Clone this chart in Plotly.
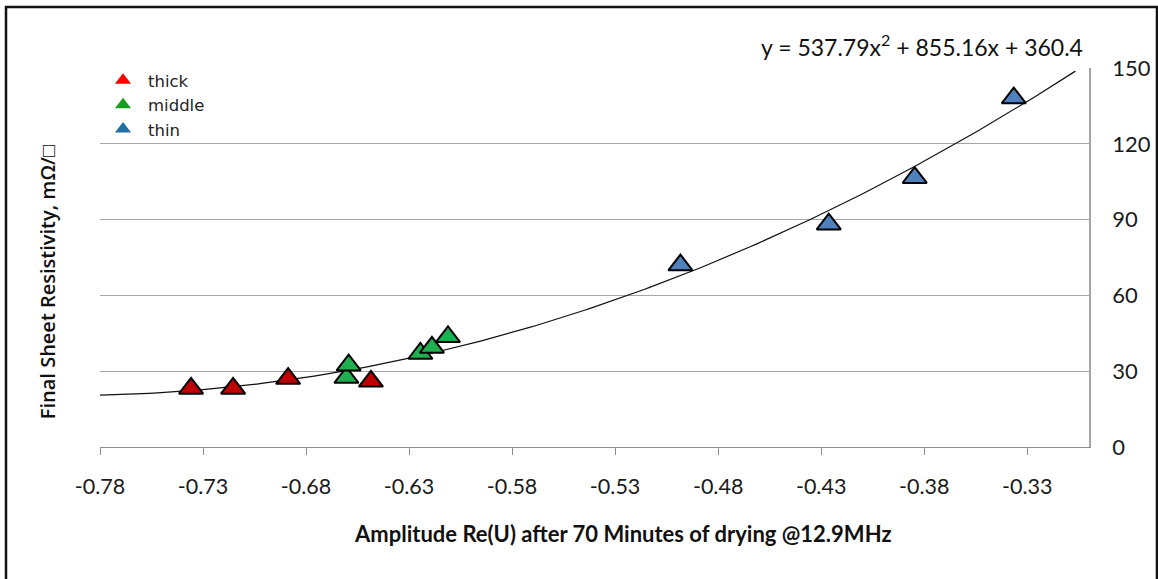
import numpy as np
import plotly.graph_objects as go

# ---- data ----
thick_x = [-0.7358, -0.7154, -0.6887, -0.6485]
thick_y = [23.2, 23.2, 27.1, 26.0]
middle_x = [-0.6604, -0.6593, -0.6245, -0.6189, -0.6111]
middle_y = [27.5, 32.4, 37.0, 39.4, 43.6]
thin_x = [-0.4983, -0.4263, -0.3846, -0.3365]
thin_y = [72.0, 88.2, 106.6, 138.1]

# polynomial trendline coefficients (as printed on the chart)
trend_coef = [537.79, 855.16, 360.4]
trend_span = [-0.78, -0.3066]

x_ticks = [-0.78, -0.73, -0.68, -0.63, -0.58, -0.53, -0.48, -0.43, -0.38, -0.33]
y_ticks = [0, 30, 60, 90, 120, 150]

x_title = "Amplitude Re(U) after 70 Minutes of drying @12.9MHz"
y_title = "Final Sheet Resistivity, mΩ/□"
eq_text = "y = 537.79x<sup>2</sup> + 855.16x + 360.4"

series = [
    ("thick", thick_x, thick_y, "#C00000", "#FF0000"),
    ("middle", middle_x, middle_y, "#1FAF4F", "#12A01E"),
    ("thin", thin_x, thin_y, "#4F81BD", "#1F6FA3"),
]

fig = go.Figure()

tx = np.linspace(trend_span[0], trend_span[1], 200)
ty = np.polyval(trend_coef, tx)
fig.add_trace(go.Scatter(x=tx, y=ty, mode="lines",
                         line=dict(color="#111111", width=1.2),
                         showlegend=False, hoverinfo="skip"))

for name, xs, ys, fill, _ in series:
    fig.add_trace(go.Scatter(
        x=xs, y=ys, mode="markers", name=name, showlegend=False,
        marker=dict(symbol="triangle-up", size=21, color=fill,
                    line=dict(color="#000000", width=2))))

# legend-only entries (legend swatches are flat, unoutlined triangles)
for name, _, _, _, lcol in series:
    fig.add_trace(go.Scatter(
        x=[None], y=[None], mode="markers", name=name,
        marker=dict(symbol="triangle-up", size=14, color=lcol,
                    line=dict(width=0))))

PL, PR = 100, 1089
PT, PB = 68, 446.7
W, H = 1158, 579
pw, ph = PR - PL, PB - PT

def px2x(px):
    return (px - PL) / pw

def py2y(py):
    return (PB - py) / ph

fig.update_layout(
    width=W, height=H,
    margin=dict(l=PL, r=W - PR, t=PT, b=H - PB, autoexpand=False),
    paper_bgcolor="white", plot_bgcolor="white",
    font=dict(family="Lato, Open Sans, sans-serif", color="#1a1a1a"),
    showlegend=True,
    legend=dict(x=px2x(98), y=py2y(63), xanchor="left", yanchor="top",
                bgcolor="rgba(0,0,0,0)", borderwidth=0, itemwidth=40,
                font=dict(family="DejaVu Sans, sans-serif",
                          size=16.5, color="#222222")),
    xaxis=dict(range=[-0.78, -0.30], tickvals=x_ticks,
               ticktext=[f"{v:.2f}" for v in x_ticks],
               showgrid=False, zeroline=False, automargin=False,
               showline=True, linecolor="#8c8c8c", linewidth=1,
               ticks="outside", ticklen=7, tickcolor="#8c8c8c",
               ticklabelstandoff=13,
               tickfont=dict(size=21.5, color="#1a1a1a")),
    yaxis=dict(range=[0, 150], tickvals=y_ticks, side="right",
               showgrid=True, gridcolor="#a6a6a6", gridwidth=1,
               zeroline=False, showline=True, linecolor="#a6a6a6",
               linewidth=1.5, ticks="", ticklabelstandoff=17,
               automargin=False,
               tickfont=dict(size=22, color="#1a1a1a")),
    annotations=[
        dict(text=x_title, xref="paper", yref="paper",
             x=px2x(623), y=py2y(533), xanchor="center", yanchor="middle",
             showarrow=False,
             font=dict(size=22, family="Lato, sans-serif", color="#111111",
                       weight="bold")),
        dict(text=y_title, xref="paper", yref="paper", textangle=-90,
             x=px2x(47), y=py2y(282), xanchor="center", yanchor="middle",
             showarrow=False,
             font=dict(size=20, family="Open Sans, sans-serif", color="#111111",
                       weight=600)),
        dict(text=eq_text, xref="paper", yref="paper",
             x=px2x(922), y=py2y(46), xanchor="center", yanchor="middle",
             showarrow=False,
             font=dict(size=23, family="Lato, sans-serif", color="#111111")),
    ],
    shapes=[
        dict(type="rect", xref="paper", yref="paper",
             x0=px2x(6), x1=px2x(1157), y0=py2y(590), y1=py2y(7),
             line=dict(color="#111111", width=2.5), fillcolor="rgba(0,0,0,0)",
             layer="below"),
    ],
)

fig.write_html("out.html")
